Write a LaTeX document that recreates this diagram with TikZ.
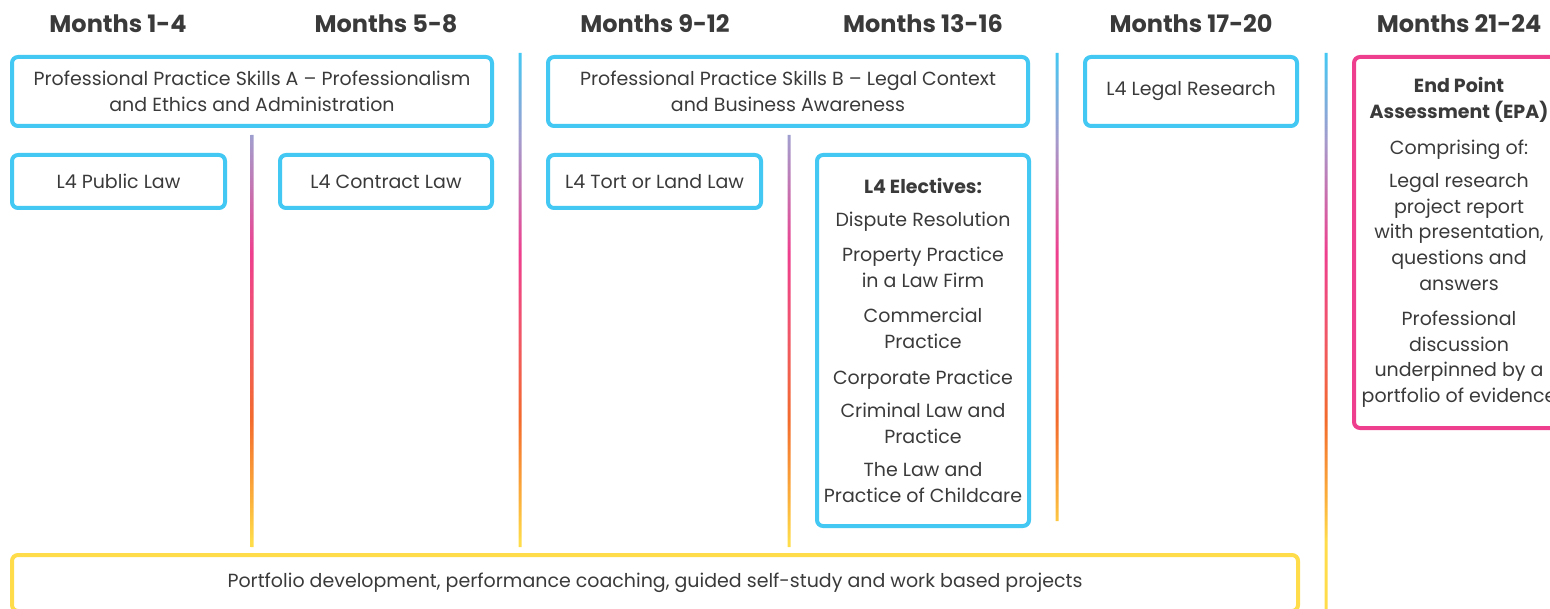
\documentclass[tikz,border=0pt]{standalone}
\usepackage{fontspec}
\setmainfont{Poppins}
\definecolor{textgray}{HTML}{3A3A3A}
\definecolor{linecyan}{HTML}{43C8F3}
\definecolor{linelavender}{HTML}{A69ACB}
\definecolor{linepink}{HTML}{EE3F8E}
\definecolor{linecoral}{HTML}{F0566A}
\definecolor{lineorange}{HTML}{F36B2D}
\definecolor{lineamber}{HTML}{FBAF3B}
\definecolor{lineyellow}{HTML}{FFDD4A}
\usetikzlibrary{positioning}
\pgfdeclareverticalshading{timeline}{100bp}{color(0bp)=(lineyellow); color(31bp)=(lineyellow);
  color(35bp)=(lineamber); color(42bp)=(lineorange); color(50bp)=(linecoral);
  color(57bp)=(linepink); color(67bp)=(linelavender); color(75bp)=(linecyan); color(100bp)=(linecyan)}
\newcommand\bodyfont{\fontsize{9.5}{12.8}\selectfont}

\begin{document}
\begin{tikzpicture}[x=0.5pt, y=-0.5pt,
      heading/.style={anchor=base, text=textgray, font=\fontsize{12}{14}\selectfont\bfseries},
      unitbox/.style={draw=linecyan, line width=2pt, rounded corners=3pt,
                    align=center, text=textgray, font=\bodyfont, inner sep=0pt},
      epabox/.style={unitbox, draw=linepink},
      portbox/.style={unitbox, draw=lineyellow}
    ]
      \clip (0,0) rectangle (1550,609);

      \begin{scope}
        \clip (250.5,135) rectangle (253.5,547) (518.5,53) rectangle (521.5,547)
              (787.5,135) rectangle (790.5,547) (1055.5,53) rectangle (1058.5,521)
              (1324.5,53) rectangle (1327.5,609);
        \shade[shading=timeline] (0,53) rectangle (1550,609);
      \end{scope}

      \node[heading] (h1) at (118,33) {Months 1-4};
      \node[heading] (h2) at (386,33) {Months 5-8};
      \node[heading] (h3) at (655,33) {Months 9-12};
      \node[heading] (h4) at (923,33) {Months 13-16};
      \node[heading] (h5) at (1191,33) {Months 17-20};
      \node[heading] (h6) at (1459,33) {Months 21-24};

      \node[unitbox, minimum width=240pt, minimum height=34.5pt] (ppsa) at (252,91.5)
        {Professional Practice Skills A – Professionalism\\and Ethics and Administration};
      \node[unitbox, minimum width=240pt, minimum height=34.5pt] (ppsb) at (788,91.5)
        {Professional Practice Skills B – Legal Context\\and Business Awareness};
      \node[unitbox, minimum width=106pt, minimum height=34.5pt] (research) at (1191,91.5) {L4 Legal Research};

      \node[unitbox, minimum width=106.5pt, minimum height=26.5pt] (public) at (118.5,181.5) {L4 Public Law};
      \node[unitbox, minimum width=106pt, minimum height=26.5pt] (contract) at (386,181.5) {L4 Contract Law};
      \node[unitbox, minimum width=106.5pt, minimum height=26.5pt] (tort) at (654.5,181.5) {L4 Tort or Land Law};

      \node[unitbox, minimum width=106pt, minimum height=185.5pt] (electives) at (923,340.5)
        {\textbf{L4 Electives:}\\[3.5pt]Dispute Resolution\\[5pt]Property Practice\\in a Law Firm\\[5pt]%
         Commercial\\Practice\\[5pt]Corporate Practice\\[4pt]Criminal Law and\\Practice\\[4pt]%
         The Law and\\Practice of Childcare};

      \node[epabox, minimum width=105pt, minimum height=185.5pt] (epa) at (1459,242.5)
        {\textbf{End Point}\\\textbf{Assessment (EPA)}\\[5pt]Comprising of:\\[4pt]Legal research\\project report\\%
         with presentation,\\questions and\\answers\\[5pt]Professional\\discussion\\underpinned by a\\%
         portfolio of evidence};

      \node[portbox, minimum width=643pt, minimum height=28pt] (portfolio) at (655,583)
        {Portfolio development, performance coaching, guided self-study and work based projects};
    \end{tikzpicture}
\end{document}
